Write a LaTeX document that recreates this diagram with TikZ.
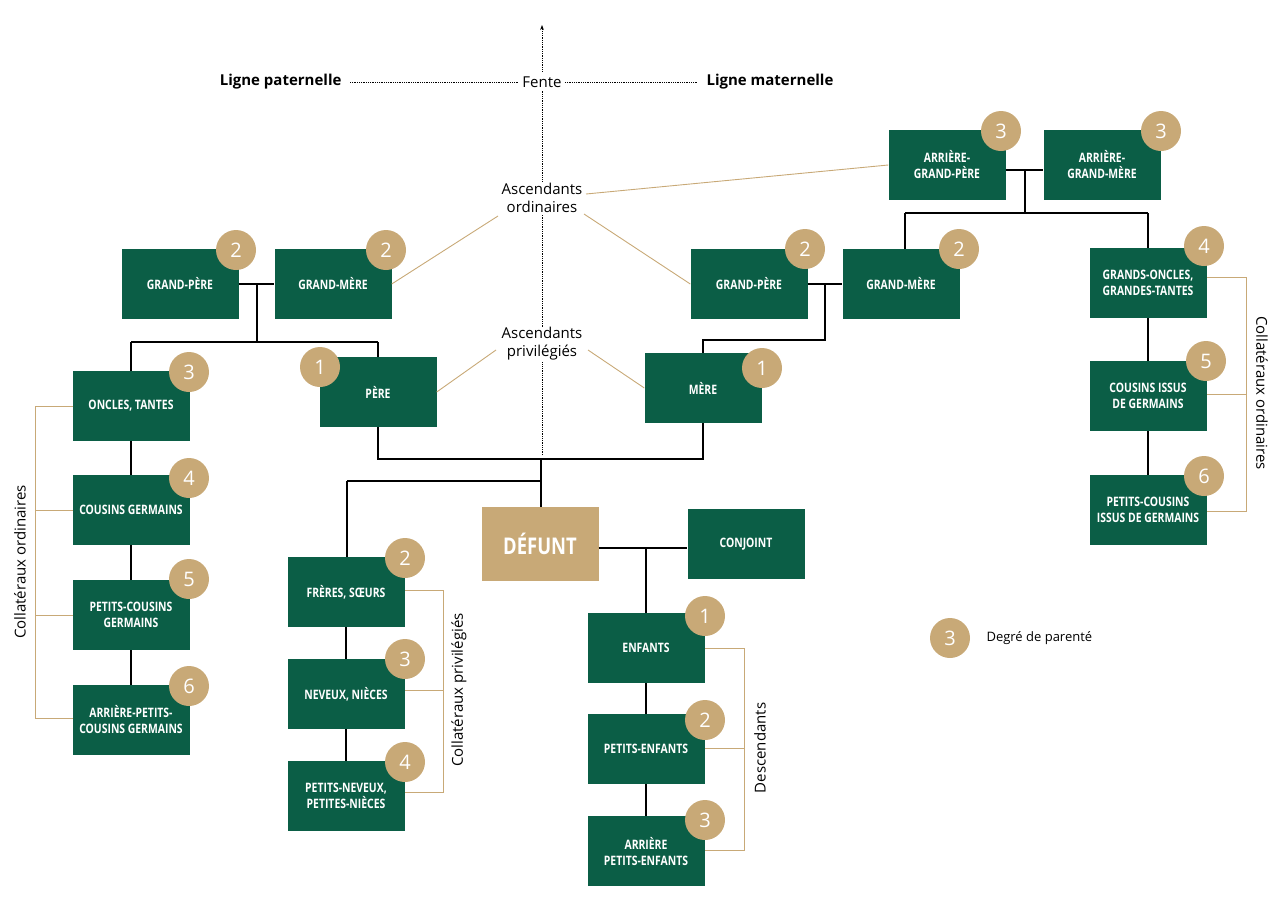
\documentclass[tikz,border=0pt]{standalone}
\usepackage{fontspec}
\setmainfont{Open Sans}
\newfontfamily\bxf{Open Sans}[FakeStretch=0.8]
\usetikzlibrary{arrows.meta}
\definecolor{gr}{HTML}{0B5E46}
\definecolor{tan}{HTML}{C8A977}
\begin{document}
\begin{tikzpicture}[x=1pt,y=-1pt,
 bx/.style={fill=gr,text=white,minimum width=117pt,minimum height=70pt,inner sep=0pt,align=center,font=\bxf\bfseries\fontsize{13}{16}\selectfont},
 dg/.style={circle,fill=tan,text=white,minimum size=40pt,inner sep=0pt,font=\fontsize{20}{20}\selectfont},
 ln/.style={black,line width=1.1pt},
 tl/.style={tan,line width=0.9pt},
 lab/.style={font=\fontsize{15}{18}\selectfont,align=center}]
\useasboundingbox (0,0) rectangle (1280,908);
\draw[densely dotted,line width=0.8pt,-{Stealth[length=5pt]}] (542,455) -- (542,25);
% boxes
\node[bx] (agp) at (947,165) {ARRIÈRE-\\GRAND-PÈRE};
\node[bx] (agm) at (1102,165) {ARRIÈRE-\\GRAND-MÈRE};
\node[bx] (gpl) at (180,284) {GRAND-PÈRE};
\node[bx] (gml) at (333,284) {GRAND-MÈRE};
\node[bx] (gpr) at (749,284) {GRAND-PÈRE};
\node[bx] (gmr) at (901,284) {GRAND-MÈRE};
\node[bx] (go) at (1148,283) {GRANDS-ONCLES,\\GRANDES-TANTES};
\node[bx] (ot) at (131,406) {ONCLES, TANTES};
\node[bx] (pere) at (378,392) {PÈRE};
\node[bx] (mere) at (703,388) {MÈRE};
\node[bx] (cig) at (1148,396) {COUSINS ISSUS\\DE GERMAINS};
\node[bx] (cg) at (131,510) {COUSINS GERMAINS};
\node[bx] (pcig) at (1148,510) {PETITS-COUSINS\\ISSUS DE GERMAINS};
\node[bx,fill=tan,minimum height=74pt,font=\bxf\bfseries\fontsize{23}{25}\selectfont] (def) at (540,544) {DÉFUNT};
\node[bx] (conj) at (746,544) {CONJOINT};
\node[bx] (pcg) at (131,615) {PETITS-COUSINS\\GERMAINS};
\node[bx] (fs) at (346,592) {FRÈRES, SŒURS};
\node[bx] (enf) at (646,648) {ENFANTS};
\node[bx] (apc) at (131,720) {ARRIÈRE-PETITS-\\COUSINS GERMAINS};
\node[bx] (nn) at (346,694) {NEVEUX, NIÈCES};
\node[bx] (pe) at (646,749) {PETITS-ENFANTS};
\node[bx] (pn) at (346,796) {PETITS-NEVEUX,\\PETITES-NIÈCES};
\node[bx] (ape) at (646,851) {ARRIÈRE\\PETITS-ENFANTS};
% circles
\foreach \n/\x/\y/\d in {c1/1001/131/3,c2/1161/131/3,c3/236/250/2,c4/386/250/2,c5/805/249/2,c6/959/249/2,c7/1204/246/4,c8/189/372/3,c9/320/367/1,c10/762/368/1,c11/1206/361/5,c12/189/478/4,c13/1204/476/6,c14/189/579/5,c15/405/558/2,c16/705/616/1,c17/189/686/6,c18/405/659/3,c19/705/720/2,c20/405/762/4,c21/705/820/3,leg/950/638/3}
  \node[dg] (\n) at (\x,\y) {\d};
\node[anchor=west,font=\fontsize{13}{15}\selectfont] (legt) at (983,638) {Degré de parenté};
% coordinates
\coordinate (j1) at (1025,170); \coordinate (j2) at (1025,213);
\coordinate (j3) at (905,213); \coordinate (j4) at (1148,213);
\coordinate (k1) at (825,284); \coordinate (k2) at (825,340); \coordinate (k3) at (703,340);
\coordinate (l1) at (257,284); \coordinate (l2) at (257,342); \coordinate (l3) at (131,342); \coordinate (l4) at (378,342);
\coordinate (m1) at (378,459); \coordinate (m2) at (703,459); \coordinate (m3) at (541,459);
\coordinate (m4) at (541,481); \coordinate (m5) at (347,481);
\coordinate (n1) at (646,548);
% black connectors
\draw[ln] (agp.east|-j1) -- (agm.west|-j1);
\draw[ln] (j1) -- (j2); \draw[ln] (j3) -- (j4);
\draw[ln] (j3) -- (j3|-gmr.north); \draw[ln] (j4) -- (go.north);
\draw[ln] (gpr.east) -- (gmr.west); \draw[ln] (k1) -- (k2) -- (k3) -- (mere.north);
\draw[ln] (gpl.east) -- (gml.west); \draw[ln] (l1) -- (l2); \draw[ln] (l3) -- (l4);
\draw[ln] (l3) -- (ot.north); \draw[ln] (l4) -- (pere.north);
\draw[ln] (pere.south) -- (m1) -- (m2) -- (mere.south);
\draw[ln] (m3) -- (m4); \draw[ln] (m5) -- (m4) -- (m4|-def.north);
\draw[ln] (m5) -- (m5|-fs.north);
\draw[ln] (def.east|-n1) -- (conj.west|-n1); \draw[ln] (n1) -- (enf.north);
\draw[ln] (ot) -- (cg) -- (pcg) -- (apc);
\draw[ln] (fs) -- (nn) -- (pn);
\draw[ln] (enf) -- (pe) -- (ape);
\draw[ln] (go) -- (cig) -- (pcig);
% tan brackets
\draw[tl] (73,406) -- (35,406) -- (35,718) -- (73,718);
\draw[tl] (35,510) -- (73,510); \draw[tl] (35,615) -- (73,615);
\node[lab,rotate=90] (lco) at (20,562) {Collatéraux ordinaires};
\draw[tl] (1207,277) -- (1246,277) -- (1246,511) -- (1207,511); \draw[tl] (1207,394) -- (1246,394);
\node[lab,rotate=-90] (rco) at (1262,393) {Collatéraux ordinaires};
\draw[tl] (405,590) -- (443,590) -- (443,792) -- (405,792); \draw[tl] (405,690) -- (443,690);
\node[lab,rotate=90] (cp) at (459,690) {Collatéraux privilégiés};
\draw[tl] (705,648) -- (744,648) -- (744,850) -- (705,850); \draw[tl] (705,748) -- (744,748);
\node[lab,rotate=90] (desc) at (760,748) {Descendants};
% fente
\node[lab,fill=white] (fente) at (542,82) {Fente};
\node[lab,anchor=east,font=\bfseries\fontsize{15}{18}\selectfont] (lp) at (345,82) {Ligne paternelle};
\node[lab,anchor=west,font=\bfseries\fontsize{15}{18}\selectfont] (lm) at (703,82) {Ligne maternelle};
\draw[densely dotted,line width=0.8pt] ([xshift=5pt]lp.east) -- (fente.west);
\draw[densely dotted,line width=0.8pt] (fente.east) -- ([xshift=-5pt]lm.west);
\node[lab,fill=white,inner sep=1pt] (ao) at (542,198) {Ascendants\\ordinaires};
\node[lab,fill=white,inner sep=1pt] (ap) at (542,344) {Ascendants\\privilégiés};
\draw[tl] (586,194) -- (agp.west);
\draw[tl] (498,216) -- (gml.east);
\draw[tl] (584,214) -- (gpr.west);
\draw[tl] (496,350) -- (pere.east);
\draw[tl] (588,350) -- (mere.west);
\end{tikzpicture}
\end{document}
